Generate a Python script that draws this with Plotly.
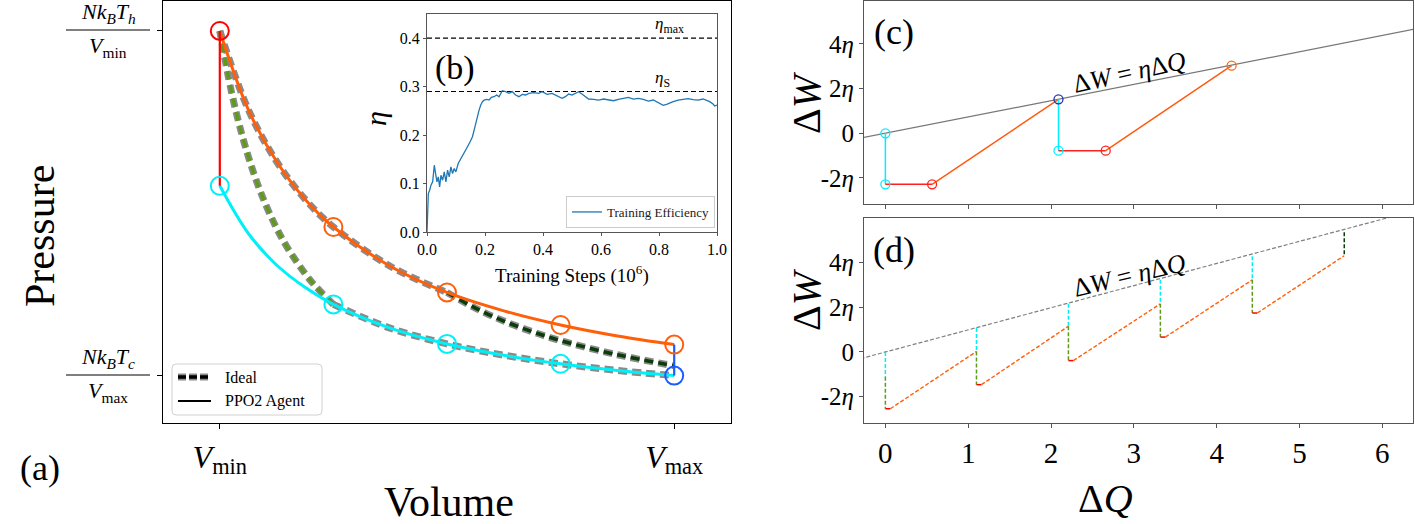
import plotly.graph_objects as go

W, H = 1415, 524
FONT = "Liberation Serif"


def px(x):
    return x / W


def py(y):
    return 1 - y / H


# ---------------- panel (a): P-V diagram ----------------
V_AGENT = [1.0, 1.25, 1.5, 1.75, 2.0, 2.5, 3.0, 3.5, 4.0, 4.5, 5.0]
P_AGENT_HOT = [1.0, 0.80, 0.667, 0.571, 0.50, 0.40, 0.333, 0.286, 0.25, 0.222, 0.20]
P_AGENT_COLD = [0.605, 0.484, 0.403, 0.346, 0.3025, 0.242, 0.2017, 0.173, 0.151, 0.134, 0.121]

V_IDEAL_HOT = [1.0, 1.25, 1.5, 1.75, 2.0, 2.5, 3.0]
P_IDEAL_HOT = [1.0, 0.80, 0.667, 0.571, 0.50, 0.40, 0.333]
V_IDEAL_AD1 = [3.0, 3.25, 3.5, 3.75, 4.0, 4.5, 5.0]
P_IDEAL_AD1 = [0.333, 0.293, 0.260, 0.233, 0.210, 0.174, 0.146]
V_IDEAL_COLD = [2.0, 2.5, 3.0, 3.5, 4.0, 4.5, 5.0]
P_IDEAL_COLD = [0.3025, 0.242, 0.2017, 0.173, 0.151, 0.134, 0.121]
V_IDEAL_AD2 = [2.0, 1.8, 1.6, 1.5, 1.4, 1.3, 1.2, 1.1, 1.0]
P_IDEAL_AD2 = [0.3025, 0.363, 0.445, 0.497, 0.560, 0.636, 0.730, 0.848, 1.0]

V_ISOCHORE_HOT = [1.0, 1.0]
P_ISOCHORE_HOT = [1.0, 0.605]
V_ISOCHORE_COLD = [5.0, 5.0]
P_ISOCHORE_COLD = [0.20, 0.121]

V_MARK_ORANGE = [2.0, 3.0, 4.0, 5.0]
P_MARK_ORANGE = [0.50, 0.333, 0.25, 0.20]
V_MARK_CYAN = [1.0, 2.0, 3.0, 4.0]
P_MARK_CYAN = [0.605, 0.3025, 0.2017, 0.151]
V_MARK_RED = [1.0]
P_MARK_RED = [1.0]
V_MARK_BLUE = [5.0]
P_MARK_BLUE = [0.121]

V_TICKS = [1.0, 5.0]
V_TICK_TEXT = ["<i>V</i><sub>min</sub>", "<i>V</i><sub>max</sub>"]
P_TICKS = [0.121, 1.0]

# ---------------- panel (b): training efficiency ----------------
STEPS = [0.0, 0.0046, 0.0092, 0.0137, 0.0195, 0.0252, 0.0297, 0.0343, 0.0389, 0.0435,
         0.0481, 0.0538, 0.0595, 0.0652, 0.0709, 0.0767, 0.0824, 0.0881, 0.0938, 0.0995,
         0.1076, 0.1144, 0.1224, 0.1304, 0.1396, 0.1487, 0.1568, 0.1625, 0.1682, 0.1739,
         0.1796, 0.1854, 0.1911, 0.1968, 0.2059, 0.2140, 0.2220, 0.2311, 0.2403, 0.2483,
         0.2540, 0.2597, 0.2712, 0.2826, 0.2941, 0.3055, 0.3169, 0.3284, 0.3398, 0.3513,
         0.3684, 0.3856, 0.3970, 0.4142, 0.4314, 0.4485, 0.4657, 0.4771, 0.4886, 0.5000,
         0.5114, 0.5229, 0.5343, 0.5458, 0.5572, 0.5744, 0.5915, 0.6087, 0.6259, 0.6430,
         0.6602, 0.6773, 0.6945, 0.7117, 0.7288, 0.7460, 0.7632, 0.7803, 0.7918, 0.8032,
         0.8146, 0.8261, 0.8375, 0.8490, 0.8661, 0.8833, 0.9005, 0.9176, 0.9348, 0.9519,
         0.9634, 0.9748, 0.9863, 0.9920, 1.0]
EFFICIENCY = [0.0, 0.0793, 0.0862, 0.0966, 0.1034, 0.1379, 0.1207, 0.1034, 0.1138, 0.0931,
              0.1172, 0.1069, 0.1241, 0.1034, 0.1276, 0.1138, 0.1345, 0.1207, 0.1310, 0.1241,
              0.1414, 0.1483, 0.1586, 0.1655, 0.1759, 0.1862, 0.1966, 0.2103, 0.2241, 0.2414,
              0.2517, 0.2621, 0.2690, 0.2724, 0.2738, 0.2724, 0.2779, 0.2793, 0.2828, 0.2793,
              0.2862, 0.2917, 0.2897, 0.2862, 0.2897, 0.2828, 0.2793, 0.2841, 0.2828, 0.2862,
              0.2876, 0.2862, 0.2897, 0.2841, 0.2862, 0.2807, 0.2759, 0.2793, 0.2848, 0.2828,
              0.2862, 0.2897, 0.2848, 0.2793, 0.2745, 0.2738, 0.2724, 0.2745, 0.2724, 0.2710,
              0.2738, 0.2759, 0.2779, 0.2745, 0.2759, 0.2738, 0.2703, 0.2724, 0.2690, 0.2655,
              0.2614, 0.2634, 0.2669, 0.2690, 0.2724, 0.2738, 0.2752, 0.2731, 0.2724, 0.2745,
              0.2724, 0.2690, 0.2641, 0.2600, 0.2621]
ETA_MAX = 0.40
ETA_S = 0.29

# ---------------- panel (c): agent cycle in (dQ, dW) ----------------
ETA_TICK = 0.39
W_TICKS = [-2 * ETA_TICK, 0.0, 2 * ETA_TICK, 4 * ETA_TICK]
W_TICK_TEXT = ["-2<i>η</i>", "0", "2<i>η</i>", "4<i>η</i>"]
Q_TICKS = [0, 1, 2, 3, 4, 5, 6]

LINE_C_Q = [-0.3, 6.5]
LINE_C_W = [-0.085, 1.85]
C_Q = [0.0, 0.0, 0.564, 2.09, 2.09, 2.66, 4.18]
C_W = [0.0, -0.89, -0.89, 0.593, -0.304, -0.304, 1.18]
C_SEG_COLORS = ["#00f0ff", "#ff2020", "#ff5a10", "#00f0ff", "#ff2020", "#ff5a10"]
C_MARK_COLORS = ["#00f0ff", "#00f0ff", "#ff2020", "#2030b0", "#00f0ff", "#ff2020", "#ff6a10"]

# ---------------- panel (d): ideal cycles ----------------
LINE_D_Q = [-0.3, 6.5]
LINE_D_W = [-0.116, 2.51]
D_Q = [0.0, 1.10, 2.21, 3.32, 4.43, 5.54]
D_TOP = [0.0, 0.42, 0.84, 1.26, 1.67, 2.09]
D_MID = [-0.43, 0.01, 0.45, 0.84, 1.26, 1.68]
D_BOT = [-0.99, -0.57, -0.15, 0.26, 0.68]
D_RED_END = [0.06, 1.16, 2.27, 3.38, 4.49]

ORANGE = "#ff5f0a"
CYAN = "#00f0f8"
OLIVE = "#5f9a1c"
DKGREEN = "#0a3d0a"
GREY = "#8a8a8a"
DASH_A = "9px,5px"
DASH_D = "4px,2px"

fig = go.Figure()


def add(x, y, xa, ya, **kw):
    kw.setdefault("showlegend", False)
    kw.setdefault("hoverinfo", "skip")
    fig.add_trace(go.Scatter(x=x, y=y, xaxis=xa, yaxis=ya, **kw))


# ---- (a) ideal cycle: grey stroke outlines
for vx, pv in [(V_IDEAL_HOT, P_IDEAL_HOT), (V_IDEAL_COLD, P_IDEAL_COLD)]:
    add(vx, pv, "x", "y", mode="lines", line=dict(color=GREY, width=7, dash=DASH_A, shape="spline"))
for vx, pv, col in [(V_IDEAL_AD1, P_IDEAL_AD1, DKGREEN), (V_IDEAL_AD2, P_IDEAL_AD2, OLIVE)]:
    add(vx, pv, "x", "y", mode="lines", line=dict(color=GREY, width=7, dash=DASH_A, shape="spline"))
    add(vx, pv, "x", "y", mode="lines", line=dict(color=col, width=3.6, dash=DASH_A, shape="spline"))

# ---- (a) agent
add(V_AGENT, P_AGENT_HOT, "x", "y", mode="lines", line=dict(color=ORANGE, width=3, shape="spline"))
add(V_AGENT, P_AGENT_COLD, "x", "y", mode="lines", line=dict(color=CYAN, width=3, shape="spline"))
add(V_ISOCHORE_HOT, P_ISOCHORE_HOT, "x", "y", mode="lines", line=dict(color="#ff0000", width=2.2))
add(V_ISOCHORE_COLD, P_ISOCHORE_COLD, "x", "y", mode="lines", line=dict(color="#1a5cff", width=2.2))
for vx, pv, col in [(V_MARK_ORANGE, P_MARK_ORANGE, ORANGE), (V_MARK_CYAN, P_MARK_CYAN, CYAN),
                    (V_MARK_RED, P_MARK_RED, "#ff0000"), (V_MARK_BLUE, P_MARK_BLUE, "#1a5cff")]:
    add(vx, pv, "x", "y", mode="markers",
        marker=dict(symbol="circle-open", size=18, color=col, line=dict(width=2)))

# ---- (b)
add([0, 1], [ETA_MAX, ETA_MAX], "x2", "y2", mode="lines", line=dict(color="black", width=1.2, dash="5px,3px"))
add([0, 1], [ETA_S, ETA_S], "x2", "y2", mode="lines", line=dict(color="black", width=1.2, dash="5px,3px"))
add(STEPS, EFFICIENCY, "x2", "y2", mode="lines", line=dict(color="#1f77b4", width=1.3),
    name="Training Efficiency", showlegend=True)

# ---- (c)
add(LINE_C_Q, LINE_C_W, "x3", "y3", mode="lines", line=dict(color="#777777", width=1.2))
for i, col in enumerate(C_SEG_COLORS):
    add(C_Q[i:i + 2], C_W[i:i + 2], "x3", "y3", mode="lines", line=dict(color=col, width=1.5))
add(C_Q, C_W, "x3", "y3", mode="markers",
    marker=dict(symbol="circle-open", size=9, color=C_MARK_COLORS, line=dict(width=1.3)))

# ---- (d)
add(LINE_D_Q, LINE_D_W, "x4", "y4", mode="lines", line=dict(color="#808080", width=1.2, dash=DASH_D))
for i in range(len(D_Q)):
    if i < len(D_BOT):
        add([D_Q[i], D_Q[i]], [D_TOP[i], D_MID[i]], "x4", "y4", mode="lines",
            line=dict(color=CYAN, width=1.5, dash=DASH_D))
        add([D_Q[i], D_Q[i]], [D_MID[i], D_BOT[i]], "x4", "y4", mode="lines",
            line=dict(color=OLIVE, width=1.5, dash=DASH_D))
        add([D_Q[i], D_RED_END[i]], [D_BOT[i], D_BOT[i]], "x4", "y4", mode="lines",
            line=dict(color="#ff0000", width=1.5))
        add([D_RED_END[i], D_Q[i + 1]], [D_BOT[i], D_MID[i + 1]], "x4", "y4", mode="lines",
            line=dict(color=ORANGE, width=1.4, dash=DASH_D))
    else:
        add([D_Q[i], D_Q[i]], [D_TOP[i], D_MID[i]], "x4", "y4", mode="lines",
            line=dict(color=DKGREEN, width=1.5, dash=DASH_D))

# ---------------- axes ----------------
def axis_style(color="black", lw=1.2):
    return dict(showline=True, mirror=True, linecolor=color, linewidth=lw, showgrid=False,
                zeroline=False, ticks="outside", tickcolor=color, ticklen=5, automargin=False,
                tickfont=dict(family=FONT, color="black"))


xa = axis_style()
xa.update(domain=[px(163), px(731)], range=[0.5, 5.5], anchor="y", tickvals=V_TICKS,
          ticktext=V_TICK_TEXT, tickfont=dict(family=FONT, size=32, color="black"))
ya = axis_style()
ya.update(domain=[py(423), py(1)], range=[0, 1.0764], anchor="x", tickvals=P_TICKS,
          showticklabels=False)

xb = axis_style("#555555", 1.0)
xb.update(domain=[px(427), px(717)], range=[0, 1], anchor="y2", tickvals=[0, 0.2, 0.4, 0.6, 0.8, 1.0],
          tickformat=".1f", ticklen=3, tickfont=dict(family=FONT, size=16, color="black"))
yb = axis_style("#555555", 1.0)
yb.update(domain=[py(232), py(14)], range=[0, 0.45], anchor="x2", tickvals=[0, 0.1, 0.2, 0.3, 0.4],
          tickformat=".1f", ticklen=3, tickfont=dict(family=FONT, size=16, color="black"))

xc = axis_style("#555555", 1.2)
xc.update(domain=[px(864), px(1413)], range=[-0.258, 6.37], anchor="y3", tickvals=Q_TICKS,
          showticklabels=False, ticklen=4)
yc = axis_style("#555555", 1.2)
yc.update(domain=[py(204), py(0.6)], range=[-1.234, 2.316], anchor="x3", tickvals=W_TICKS,
          ticktext=W_TICK_TEXT, ticklen=4, tickfont=dict(family=FONT, size=25, color="black"))
xd = axis_style("#555555", 1.2)
xd.update(domain=[px(864), px(1413)], range=[-0.258, 6.37], anchor="y4", tickvals=Q_TICKS,
          ticklen=4, tickfont=dict(family=FONT, size=29, color="black"))
yd = axis_style("#555555", 1.2)
yd.update(domain=[py(423), py(218)], range=[-1.239, 2.338], anchor="x4", tickvals=W_TICKS,
          ticktext=W_TICK_TEXT, ticklen=4, tickfont=dict(family=FONT, size=25, color="black"))

# ---------------- annotations ----------------
ann = []


def text(x, y, s, size, angle=0, xanchor="center", yanchor="middle", xref="paper", yref="paper"):
    ann.append(dict(x=x, y=y, xref=xref, yref=yref, text=s, showarrow=False, textangle=angle,
                    xanchor=xanchor, yanchor=yanchor, font=dict(family=FONT, size=size, color="black")))


text(px(40), py(236), "Pressure", 42, angle=-90)
text(px(449), py(502), "Volume", 42)
text(px(40), py(468), "(a)", 36)
text(px(455), py(68), "(b)", 34)
text(px(894), py(32), "(c)", 36)
text(px(894), py(250), "(d)", 36)
text(px(806), py(103), "Δ<i>W</i>", 40, angle=-90)
text(px(806), py(300), "Δ<i>W</i>", 40, angle=-90)
text(px(1105), py(498), "Δ<i>Q</i>", 40)
text(px(376), py(119), "<i>η</i>", 30, angle=-90)
text(px(572), py(260), "Training Steps (10<sup>6</sup>)", 19, yanchor="top")
text(0.78, ETA_MAX, "<i>η</i><sub>max</sub>", 17, xanchor="left", yanchor="bottom", xref="x2", yref="y2")
text(0.78, ETA_S, "<i>η</i><sub>S</sub>", 17, xanchor="left", yanchor="bottom", xref="x2", yref="y2")
text(px(1129), py(72), "Δ<i>W</i> = <i>η</i>Δ<i>Q</i>", 26, angle=-12.5)
text(px(1129), py(275), "Δ<i>W</i> = <i>η</i>Δ<i>Q</i>", 26, angle=-13.5)

# fraction tick labels of panel (a)
shapes = []
for bar_y, num, den in [(30, "<i>Nk</i><sub><i>B</i></sub><i>T</i><sub><i>h</i></sub>", "<i>V</i><sub>min</sub>"),
                        (375, "<i>Nk</i><sub><i>B</i></sub><i>T</i><sub><i>c</i></sub>", "<i>V</i><sub>max</sub>")]:
    text(px(108), py(bar_y - 1), num, 22, yanchor="bottom")
    text(px(108), py(bar_y + 1), den, 22, yanchor="top")
    shapes.append(dict(type="line", xref="paper", yref="paper", x0=px(66), x1=px(150),
                       y0=py(bar_y), y1=py(bar_y), line=dict(color="black", width=1)))


# legend of panel (a), drawn by hand to reproduce the stroked dashed style
def rounded(x0, y0, x1, y1, r):
    pts = (f"M{px(x0 + r)},{py(y0)} L{px(x1 - r)},{py(y0)} Q{px(x1)},{py(y0)} {px(x1)},{py(y0 + r)} "
           f"L{px(x1)},{py(y1 - r)} Q{px(x1)},{py(y1)} {px(x1 - r)},{py(y1)} "
           f"L{px(x0 + r)},{py(y1)} Q{px(x0)},{py(y1)} {px(x0)},{py(y1 - r)} "
           f"L{px(x0)},{py(y0 + r)} Q{px(x0)},{py(y0)} {px(x0 + r)},{py(y0)} Z")
    return pts


shapes.append(dict(type="path", xref="paper", yref="paper", path=rounded(172, 364, 322, 415, 4),
                   line=dict(color="#d0d0d0", width=1), fillcolor="rgba(255,255,255,0.85)", layer="above"))
shapes.append(dict(type="line", xref="paper", yref="paper", x0=px(178), x1=px(211), y0=py(377), y1=py(377),
                   line=dict(color=GREY, width=7, dash="8px,3px"), layer="above"))
shapes.append(dict(type="line", xref="paper", yref="paper", x0=px(178), x1=px(211), y0=py(377), y1=py(377),
                   line=dict(color="black", width=3.6, dash="8px,3px"), layer="above"))
shapes.append(dict(type="line", xref="paper", yref="paper", x0=px(178), x1=px(211), y0=py(401), y1=py(401),
                   line=dict(color="black", width=2), layer="above"))
text(px(223), py(377), "Ideal", 16, xanchor="left")
text(px(223), py(401), "PPO2 Agent", 16, xanchor="left")

fig.update_layout(
    width=W, height=H, margin=dict(l=0, r=0, t=0, b=0, autoexpand=False),
    paper_bgcolor="white", plot_bgcolor="white",
    font=dict(family=FONT, color="black"),
    xaxis=xa, yaxis=ya, xaxis2=xb, yaxis2=yb, xaxis3=xc, yaxis3=yc, xaxis4=xd, yaxis4=yd,
    annotations=ann, shapes=shapes,
    legend=dict(x=px(715), y=py(228), xanchor="right", yanchor="bottom", bgcolor="white",
                bordercolor="#cccccc", borderwidth=1, font=dict(family=FONT, size=13, color="#222222"),
                itemwidth=30, tracegroupgap=0),
)

fig.write_html("out.html")
